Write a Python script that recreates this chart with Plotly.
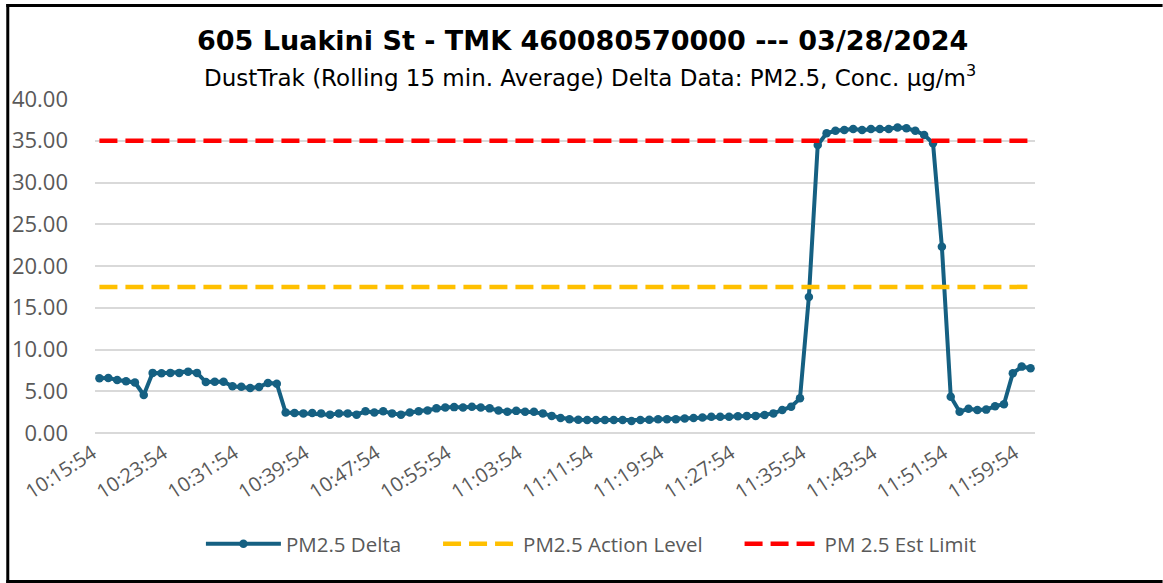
import plotly.graph_objects as go
import pandas as pd

# Time categories (one reading per minute)
times = [t.strftime("%H:%M:%S") for t in pd.date_range("2024-03-28 10:15:54", periods=106, freq="1min")]

pm25_delta = [
    6.55, 6.6, 6.35, 6.2, 6.05, 4.55, 7.2, 7.15, 7.2, 7.2,
    7.35, 7.2, 6.1, 6.15, 6.15, 5.6, 5.55, 5.4, 5.5, 6.0,
    5.9, 2.45, 2.4, 2.35, 2.4, 2.35, 2.2, 2.35, 2.35, 2.2,
    2.6, 2.45, 2.6, 2.35, 2.2, 2.45, 2.6, 2.7, 2.95, 3.05,
    3.1, 3.05, 3.15, 3.05, 2.95, 2.7, 2.55, 2.65, 2.55, 2.55,
    2.35, 2.05, 1.8, 1.65, 1.6, 1.55, 1.55, 1.55, 1.55, 1.55,
    1.45, 1.55, 1.6, 1.65, 1.65, 1.65, 1.75, 1.8, 1.85, 1.95,
    1.95, 1.95, 2.0, 2.05, 2.05, 2.15, 2.35, 2.75, 3.15, 4.15,
    16.3, 34.5, 35.9, 36.2, 36.3, 36.4, 36.3, 36.4, 36.4, 36.4,
    36.6, 36.5, 36.2, 35.7, 34.7, 22.3, 4.35, 2.55, 2.9, 2.75,
    2.8, 3.2, 3.45, 7.15, 7.95, 7.75,
]
action_level_value = 17.5
est_limit_value = 35.0
action_level = [action_level_value] * len(times)
est_limit = [est_limit_value] * len(times)

series_names = ["PM2.5 Delta", "PM2.5 Action Level", "PM 2.5 Est Limit"]

tick_step = 8
tick_idx = list(range(0, len(times), tick_step))
tick_labels = [times[i] for i in tick_idx]
y_ticks = [0, 5, 10, 15, 20, 25, 30, 35, 40]

FONT = "Open Sans"
TFONT = "DejaVu Sans"
GRAY = "#595959"
BLUE = "#156082"
PAD = "\u00a0" * 6  # spacing between legend entries

x = list(range(len(times)))

fig = go.Figure()
fig.add_trace(go.Scatter(
    x=x, y=pm25_delta, name=series_names[0] + PAD, mode="lines+markers",
    line=dict(color=BLUE, width=4),
    marker=dict(color=BLUE, size=8.5, symbol="circle"),
    customdata=times, hovertemplate="%{customdata}: %{y:.2f}<extra></extra>",
))
fig.add_trace(go.Scatter(
    x=x, y=action_level, name=series_names[1] + PAD, mode="lines",
    line=dict(color="#FFC000", width=4.5, dash="18px,8px"),
))
fig.add_trace(go.Scatter(
    x=x, y=est_limit, name=series_names[2], mode="lines",
    line=dict(color="#FF0000", width=4.5, dash="18px,8px"),
))

W, H = 1163, 583
L, R, T, B = 92, 128, 99, 150
pw, ph = W - L - R, H - T - B

def px_x(px):
    return (px - L) / pw

def px_y(py):
    return (H - B - py) / ph

border = dict(color="black", width=3)

fig.update_layout(
    width=W, height=H,
    margin=dict(l=L, r=R, t=T, b=B),
    paper_bgcolor="white", plot_bgcolor="white",
    font=dict(family=FONT, color=GRAY),
    showlegend=True,
    legend=dict(
        orientation="h", x=px_x(590), xanchor="center", y=px_y(544), yanchor="middle",
        font=dict(family=FONT, size=20.5, color=GRAY),
        itemwidth=75,
    ),
    xaxis=dict(
        range=[-0.5, len(times) - 0.5],
        tickmode="array", tickvals=tick_idx, ticktext=tick_labels,
        tickangle=-33, tickfont=dict(family=FONT, size=20, color=GRAY),
        showgrid=False, zeroline=False, showline=False, ticks="",
        ticklabelstandoff=4, ticklabelshift=-7,
        fixedrange=True,
    ),
    yaxis=dict(
        range=[0, 40], tickmode="array", tickvals=y_ticks,
        tickformat=".2f", tickfont=dict(family=FONT, size=22, color=GRAY),
        showgrid=True, gridcolor="#d9d9d9", gridwidth=1.5,
        zeroline=True, zerolinecolor="#d9d9d9", zerolinewidth=1.5,
        showline=False, ticks="", ticklabelstandoff=26,
    ),
    annotations=[
        dict(text="<b>605 Luakini St - TMK 460080570000 --- 03/28/2024</b>",
             xref="paper", yref="paper", x=px_x(581), y=px_y(40),
             xanchor="center", yanchor="middle", showarrow=False,
             font=dict(family=TFONT, size=27, color="black")),
        dict(text="DustTrak (Rolling 15 min. Average) Delta Data: PM2.5, Conc. µg/m<sup>3</sup>",
             xref="paper", yref="paper", x=px_x(589), y=px_y(76),
             xanchor="center", yanchor="middle", showarrow=False,
             font=dict(family=TFONT, size=23, color="black")),
    ],
    shapes=[
        dict(type="line", xref="paper", yref="paper",
             x0=px_x(4.5), x1=px_x(4.5), y0=px_y(583), y1=px_y(4), line=border, layer="above"),
        dict(type="line", xref="paper", yref="paper",
             x0=px_x(3), x1=px_x(1163), y0=px_y(5.5), y1=px_y(5.5), line=border, layer="above"),
        dict(type="line", xref="paper", yref="paper",
             x0=px_x(3), x1=px_x(1163), y0=px_y(581.5), y1=px_y(581.5), line=border, layer="above"),
    ],
)

fig.write_html("out.html", config={"displayModeBar": False},
               post_script="document.body.style.margin='0';")
